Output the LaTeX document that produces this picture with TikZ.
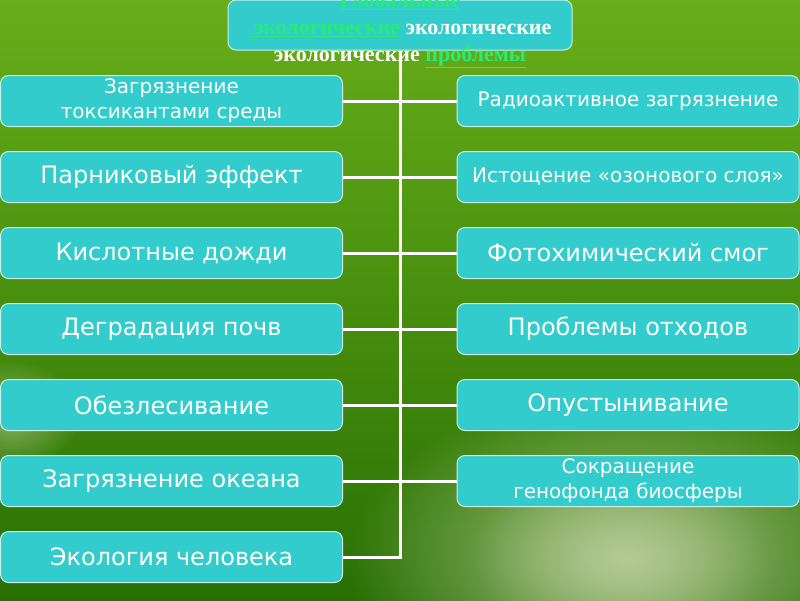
\documentclass[tikz,border=0pt]{standalone}
\usepackage{fontspec}
\setmainfont{DejaVu Sans}
\newfontfamily\headfont{Liberation Serif}
\usetikzlibrary{positioning,fadings}

\definecolor{boxcyan}{RGB}{51,204,204}
\definecolor{boxedge}{RGB}{200,240,235}
\definecolor{linkgreen}{RGB}{40,235,120}
\definecolor{bgtop}{RGB}{104,174,26}
\definecolor{bgbottom}{RGB}{40,112,4}
\definecolor{bglight}{RGB}{190,208,158}

\tikzfading[name=softspot, inner color=transparent!0, outer color=transparent!100]

\newcommand\lnk[1]{{\color{linkgreen}\underline{#1}}}

\begin{document}
\begin{tikzpicture}[x=1pt,y=-1pt,
  problem/.style={draw=boxedge, fill=boxcyan, line width=1pt, rounded corners=8pt,
    minimum width=342pt, minimum height=51pt, inner sep=0pt, text=white, align=center},
  big/.style={font=\fontsize{24}{28}\selectfont},
  small/.style={font=\fontsize{20}{25}\selectfont},
  link/.style={draw=white, line width=3pt}]

% background
\useasboundingbox (0,0) rectangle (800,600);
\shade[top color=bgtop, bottom color=bgbottom] (0,0) rectangle (800,600);
\fill[bglight, opacity=0.85, path fading=softspot] (630,560) ellipse (280 and 170);
\fill[bglight, opacity=0.6, path fading=softspot] (620,555) ellipse (150 and 90);
\fill[bglight, opacity=0.6, path fading=softspot] (10,415) ellipse (70 and 55);

% title box
\node[problem, minimum width=344pt, minimum height=50pt] (title) at (400,25) {};

% left column
\node[problem, small] (L1) at (171.5,101) {Загрязнение\\токсикантами среды};
\node[problem, big] (L2) at (171.5,177) {Парниковый эффект};
\node[problem, big] (L3) at (171.5,253) {Кислотные дожди};
\node[problem, big] (L4) at (171.5,329) {Деградация почв};
\node[problem, big] (L5) at (171.5,405) {Обезлесивание};
\node[problem, big] (L6) at (171.5,481) {Загрязнение океана};
\node[problem, big] (L7) at (171.5,557) {Экология человека};

% right column
\node[problem, small] (R1) at (628,101) {Радиоактивное загрязнение};
\node[problem, small] (R2) at (628,177) {Истощение «озонового слоя»};
\node[problem, big] (R3) at (628,253) {Фотохимический смог};
\node[problem, big] (R4) at (628,329) {Проблемы отходов};
\node[problem, big] (R5) at (628,405) {Опустынивание};
\node[problem, small] (R6) at (628,481) {Сокращение\\генофонда биосферы};

% trunk and branches
\coordinate (trunkend) at (400,557);
\draw[link] (title.south) -- (trunkend) -- (L7.east);
\foreach \i in {1,...,6}
  \draw[link] (L\i.east) -- (R\i.west);

% title text
\node[text=white, align=center, inner sep=0pt,
  font=\headfont\bfseries\fontsize{22}{27}\selectfont] (heading) at (400,30)
  {\lnk{Глобальные}\\\lnk{\ экологические} экологические\\экологические \lnk{проблемы}};

\end{tikzpicture}
\end{document}
